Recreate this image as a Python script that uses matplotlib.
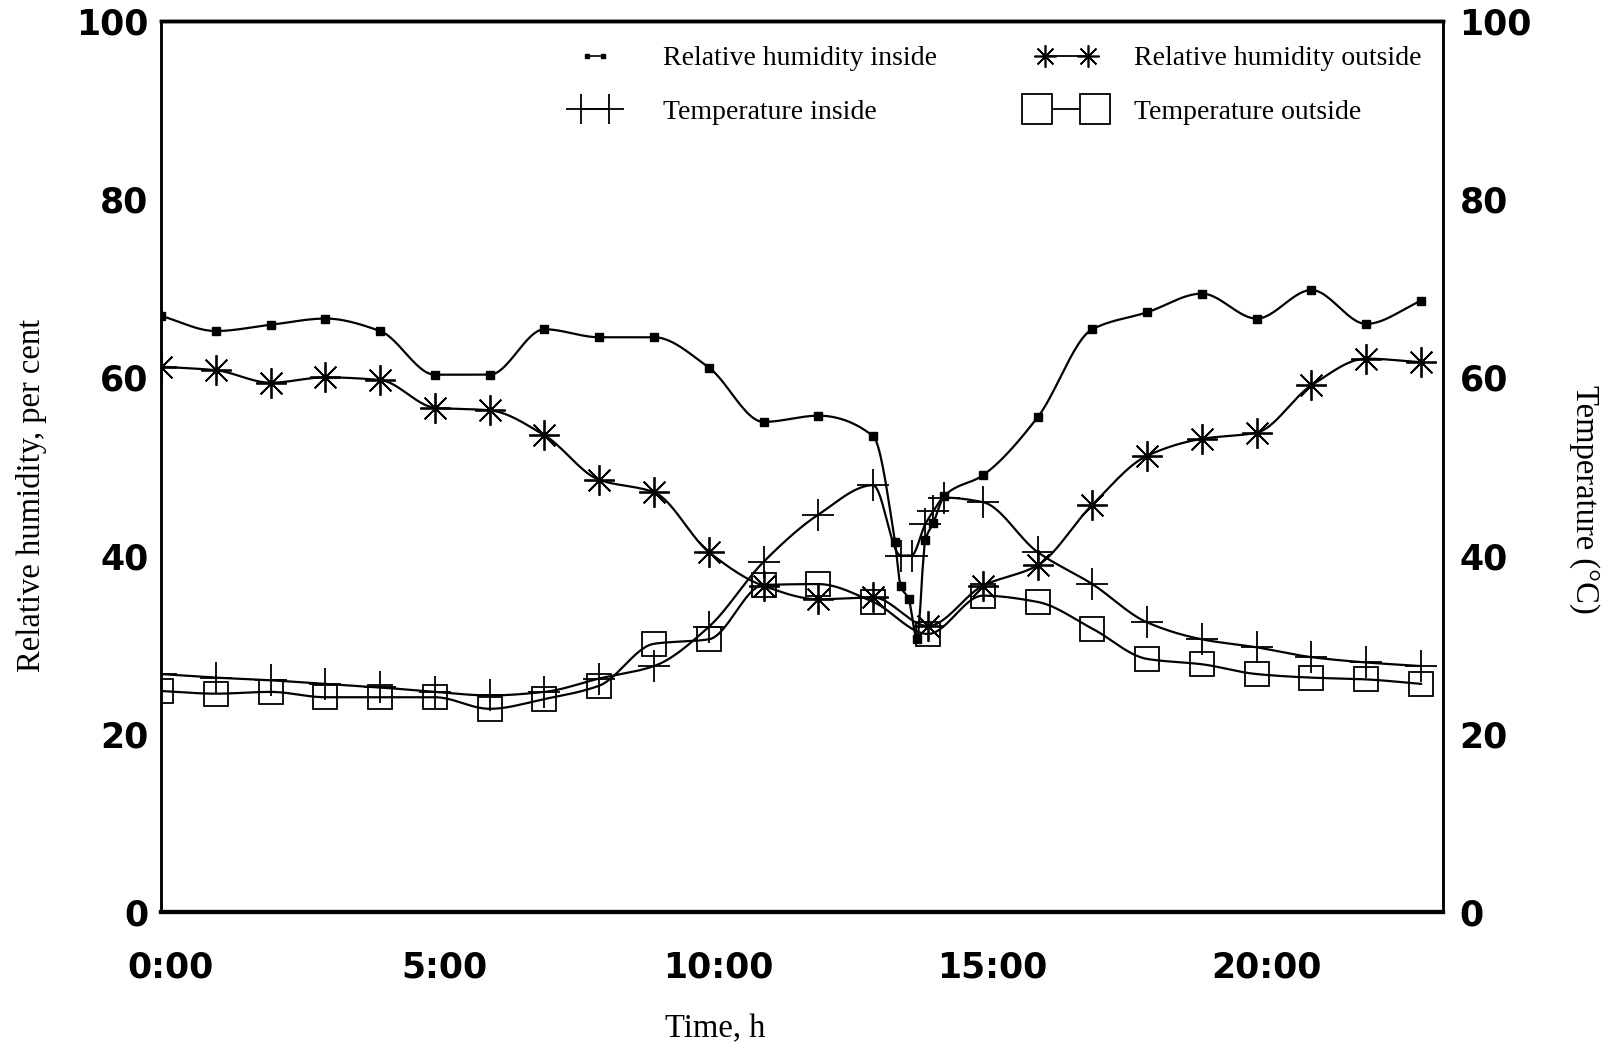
import numpy as np
import matplotlib
matplotlib.use("Agg")
import matplotlib.pyplot as plt
from matplotlib.lines import Line2D
from matplotlib.legend_handler import HandlerLine2D
from matplotlib.transforms import ScaledTranslation

# ---------------- data ----------------
hours = list(range(24))

rh_in_t = [0, 1, 2, 3, 4, 5, 6, 7, 8, 9, 10, 11, 12, 13,
           13.4, 13.5, 13.65, 13.8, 13.95, 14.1, 14.3,
           15, 16, 17, 18, 19, 20, 21, 22, 23]
rh_in = [66.9, 65.2, 65.9, 66.6, 65.2, 60.3, 60.3, 65.4, 64.5, 64.5, 61.1, 55.0, 55.7, 53.4,
         41.5, 36.6, 35.1, 30.6, 41.7, 43.7, 46.7,
         49.0, 55.5, 65.4, 67.3, 69.4, 66.6, 69.8, 66.0, 68.6]

rh_out = [61.2, 60.8, 59.4, 60.0, 59.7, 56.6, 56.3, 53.5, 48.5, 47.1, 40.4, 36.6,
          35.1, 35.3, 32.1, 36.6, 38.9, 45.7, 51.2, 53.1, 53.8, 59.1, 62.1, 61.7]

t_in_t = [0, 1, 2, 3, 4, 5, 6, 7, 8, 9, 10, 11, 12, 13,
          13.5, 13.7, 13.95, 14.1, 14.3,
          15, 16, 17, 18, 19, 20, 21, 22, 23]
t_in = [26.7, 26.3, 26.0, 25.6, 25.2, 24.7, 24.3, 24.7, 26.2, 27.6, 32.0, 39.3, 44.6, 47.9,
        40.0, 40.0, 43.5, 45.0, 46.5,
        46.0, 40.4, 36.8, 32.5, 30.6, 29.7, 28.6, 28.0, 27.6]

t_out = [24.8, 24.5, 24.7, 24.1, 24.1, 24.1, 22.8, 23.9, 25.4, 30.1, 30.6, 36.7,
         36.8, 34.8, 31.2, 35.5, 34.8, 31.8, 28.4, 27.8, 26.7, 26.3, 26.1, 25.6]

xticks = [0, 5, 10, 15, 20]
xtick_labels = ["0:00", "5:00", "10:00", "15:00", "20:00"]
yticks = [0, 20, 40, 60, 80, 100]

labels = ["Relative humidity inside", "Temperature inside",
          "Relative humidity outside", "Temperature outside"]


# ---------------- smooth rendering of the curves (monotone cubic) ----------------
def pchip_curve(x, y, n=600):
    x = np.asarray(x, float)
    y = np.asarray(y, float)
    h = np.diff(x)
    delta = np.diff(y) / h
    d = np.zeros_like(y)
    for k in range(1, len(x) - 1):
        if delta[k - 1] * delta[k] > 0:
            w1 = 2 * h[k] + h[k - 1]
            w2 = h[k] + 2 * h[k - 1]
            d[k] = (w1 + w2) / (w1 / delta[k - 1] + w2 / delta[k])
    d[0] = delta[0]
    d[-1] = delta[-1]
    xs = np.linspace(x[0], x[-1], n)
    idx = np.clip(np.searchsorted(x, xs) - 1, 0, len(x) - 2)
    t = (xs - x[idx]) / h[idx]
    h00 = 2 * t**3 - 3 * t**2 + 1
    h10 = t**3 - 2 * t**2 + t
    h01 = -2 * t**3 + 3 * t**2
    h11 = t**3 - t**2
    ys = h00 * y[idx] + h10 * h[idx] * d[idx] + h01 * y[idx + 1] + h11 * h[idx] * d[idx + 1]
    return xs, ys


plt.rcParams["font.family"] = ["DejaVu Sans"]
serif = "Liberation Serif"

fig = plt.figure(figsize=(16.18, 10.48), dpi=100)
ax = fig.add_axes([0.0995, 0.1298, 0.7923, 0.8502])
ax2 = ax.twinx()

lw = 1.6
star = (8, 2, 0)

# RH inside
xs, ys = pchip_curve(rh_in_t, rh_in)
ax.plot(xs, ys, color="black", lw=lw, zorder=3)
ax.plot(rh_in_t, rh_in, ls="none", marker="s", ms=5.5, color="black", zorder=4)

# RH outside
xs, ys = pchip_curve(hours, rh_out)
ax.plot(xs, ys, color="black", lw=lw, zorder=3)
ax.plot(hours, rh_out, ls="none", marker=star, ms=22, mew=1.3, color="black", zorder=4)

# Temperature inside
xs, ys = pchip_curve(t_in_t, t_in)
ax2.plot(xs, ys, color="black", lw=lw, zorder=3)
ax2.plot(t_in_t, t_in, ls="none", marker="+", ms=23, mew=1.3, color="black", zorder=4)

# Temperature outside
xs, ys = pchip_curve(hours, t_out)
ax2.plot(xs, ys, color="black", lw=lw, zorder=3)
ax2.plot(hours, t_out, ls="none", marker="s", ms=17, mew=1.3, mfc="none", mec="black", zorder=4)

ax.set_xlim(0, 23.4)
ax.set_ylim(0, 100)
ax2.set_ylim(0, 100)
ax.set_xticks(xticks)
ax.set_xticklabels(xtick_labels)
ax.set_yticks(yticks)
ax2.set_yticks(yticks)

for a in (ax, ax2):
    a.tick_params(length=0, labelsize=25)
    for lab in a.get_xticklabels() + a.get_yticklabels():
        lab.set_fontweight("bold")
ax.tick_params(axis="x", pad=28)
ax.tick_params(axis="y", pad=9)
ax2.tick_params(axis="y", pad=12)
shift = ScaledTranslation(7 / 72, 0, fig.dpi_scale_trans)
for lab in ax.get_xticklabels():
    lab.set_transform(lab.get_transform() + shift)

for a in (ax, ax2):
    for s in a.spines.values():
        s.set_linewidth(1.8)
    a.spines["bottom"].set_linewidth(3)
    a.spines["top"].set_linewidth(2.5)

ax.set_ylabel("Relative humidity, per cent", family=serif, fontsize=23.5)
ax.yaxis.set_label_coords(-0.1014, 0.467)
ax.yaxis.label.set_va("center")
ax.yaxis.label.set_ha("center")

ax2.set_ylabel("Temperature (°C)", family=serif, fontsize=23.5, rotation=-90)
ax2.yaxis.set_label_coords(1.110, 0.4635)
ax2.yaxis.label.set_va("center")
ax2.yaxis.label.set_ha("center")

ax.set_xlabel("Time, h", family=serif, fontsize=23.5)
ax.xaxis.set_label_coords(0.432, -0.131)
ax.xaxis.label.set_va("center")

# legend
handles = [
    Line2D([], [], color="black", lw=1.2, marker="s", ms=3.5),
    Line2D([], [], color="black", lw=1.3, marker="+", ms=22, mew=1.3),
    Line2D([], [], color="black", lw=1.3, marker=star, ms=16, mew=1.2),
    Line2D([], [], color="black", lw=1.3, marker="s", ms=22, mew=1.3, mfc="white"),
]
pads = [0.97, 0.745, 0.475, 0.205]
hmap = {h: HandlerLine2D(numpoints=2, marker_pad=p) for h, p in zip(handles, pads)}
leg = ax.legend(handles, labels, ncol=2, frameon=False, numpoints=2,
                handler_map=hmap,
                loc="upper left", bbox_to_anchor=(0.292, 1.0),
                prop={"family": serif, "size": 20},
                handlelength=2.5, handletextpad=1.2, columnspacing=3.4,
                labelspacing=1.0)

fig.savefig("out.png", dpi=100)
